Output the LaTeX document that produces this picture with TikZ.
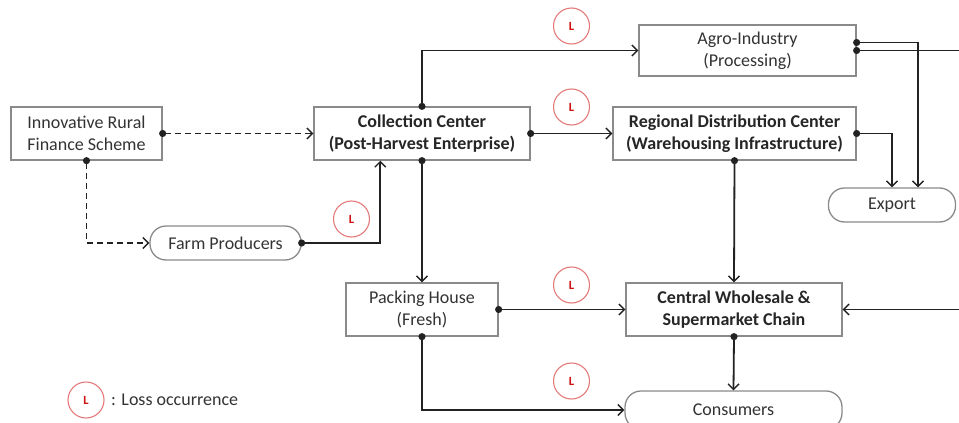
\documentclass[tikz,border=0pt]{standalone}
\usepackage{fontspec}
\setmainfont{Carlito}
\usetikzlibrary{arrows.meta,calc}
\definecolor{boxline}{HTML}{8A8A8A}
\definecolor{txt}{HTML}{333333}
\definecolor{conn}{HTML}{222222}
\definecolor{lossring}{HTML}{E57A7A}
\definecolor{lossL}{HTML}{D01010}
\begin{document}
\begin{tikzpicture}[x=1pt,y=-1pt,
  box/.style={draw=boxline,line width=1.3pt,fill=white,align=center,text=txt,
    font=\fontsize{18}{22}\selectfont,inner sep=0pt},
  bbox/.style={box,font=\fontsize{18}{22}\selectfont\bfseries,text=black!85},
  pill/.style={box,rounded corners=16pt},
  flow/.style={draw=conn,line width=1.8pt,{Circle[length=7pt,width=7pt]}-{Straight Barb[length=5.5pt,width=11pt,line width=1.4pt]},shorten <=-3.5pt},
  dflow/.style={flow,dash pattern=on 6pt off 4pt},
  free/.style={draw=conn,line width=1.8pt},
  loss/.style={circle,draw=lossring,line width=1.1pt,minimum size=36pt,inner sep=0pt,
    text=lossL,font=\fontsize{12.5}{12.5}\selectfont\bfseries}
]
\useasboundingbox (0,0) rectangle (959,423);
% nodes
\node[box,minimum width=151pt,minimum height=53pt] (innov) at (86.5,133.5) {Innovative Rural\\Finance Scheme};
\node[bbox,minimum width=216pt,minimum height=53pt] (coll) at (422,133.5) {Collection Center\\(Post-Harvest Enterprise)};
\node[box,minimum width=217pt,minimum height=51pt] (agro) at (747.5,50.5) {Agro-Industry\\(Processing)};
\node[bbox,minimum width=243pt,minimum height=53pt] (reg) at (734.5,133.5) {Regional Distribution Center\\(Warehousing Infrastructure)};
\node[pill,minimum width=127pt,minimum height=34pt] (export) at (892,205) {Export};
\node[pill,minimum width=151pt,minimum height=34pt] (farm) at (225.5,243) {Farm Producers};
\node[box,minimum width=152pt,minimum height=53pt] (pack) at (422,309.5) {Packing House\\(Fresh)};
\node[bbox,minimum width=216pt,minimum height=53pt] (cent) at (734,309.5) {Central Wholesale \&\\Supermarket Chain};
\node[pill,minimum width=217pt,minimum height=38pt] (cons) at (733.5,410) {Consumers};
% free ends at the right border
\coordinate (outA) at (962,50.5);
\coordinate (outB) at (962,309.5);
% connectors
\draw[dflow] (innov.east) -- (coll.west);
\draw[dflow] (innov.south) |- (farm.west);
\draw[flow] (farm.east) -| ([xshift=67pt]coll.south west);
\draw[flow] (coll.north) |- (agro.west);
\draw[flow] (coll.east) -- (reg.west);
\draw[flow] (coll.south) -- (pack.north);
\draw[free,{Circle[length=7pt,width=7pt]}-,shorten <=-3.5pt] (agro.east) -- (outA);
\draw[flow] ([yshift=8pt]agro.east) -| ([xshift=26pt]export.north);
\draw[flow] (reg.east) -| (export.north);
\draw[flow] (reg.south) -- (cent.north);
\draw[flow] (pack.east) -- (cent.west);
\draw[flow] (pack.south) |- (cons.west);
\draw[flow] (cent.south) -- (cons.north);
\draw[free,-{Straight Barb[length=5.5pt,width=11pt,line width=1.4pt]}] (outB) -- (cent.east);
% loss markers
\node[loss] (l1) at (571.5,26) {L};
\node[loss] (l2) at (571.5,107) {L};
\node[loss] (l3) at (351.5,219) {L};
\node[loss] (l4) at (571.5,285) {L};
\node[loss] (l5) at (571.5,381) {L};
% legend
\node[loss] (lg) at (86,400) {L};
\node[anchor=west,text=txt,font=\fontsize{18}{22}\selectfont,inner sep=0pt] (lgtext) at (111,400) {: Loss occurrence};
\end{tikzpicture}
\end{document}
